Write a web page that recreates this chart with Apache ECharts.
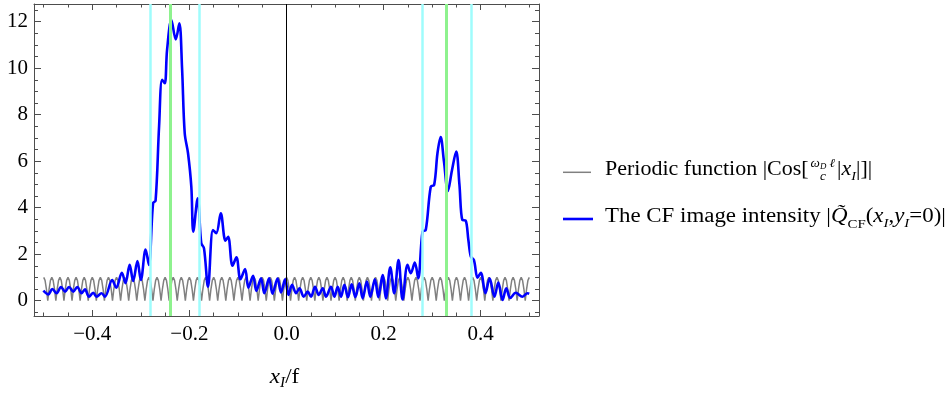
<!DOCTYPE html>
<html>
<head>
<meta charset="utf-8">
<script src="https://cdn.jsdelivr.net/npm/echarts@6/dist/echarts.min.js"></script>
<style>html,body{margin:0;padding:0;background:#fff}#c{width:948px;height:395px}</style>
</head>
<body>
<div id="c"></div>
<script>
// ---------------- data ----------------
const xMin = -0.52, xMax = 0.52, yMin = -0.66, yMax = 12.76;
const xMajor = [-0.4, -0.2, 0, 0.2, 0.4];
const xTickLabels = ['\u22120.4', '\u22120.2', '0.0', '0.2', '0.4'];
const xMinor = [-0.5, -0.45, -0.35, -0.3, -0.25, -0.15, -0.1, -0.05, 0.05, 0.1, 0.15, 0.25, 0.3, 0.35, 0.45, 0.5];
const yMajor = [0, 2, 4, 6, 8, 10, 12];
const yTickLabels = ['0', '2', '4', '6', '8', '10', '12'];
const yMinor = [-0.5, 0.5, 1, 1.5, 2.5, 3, 3.5, 4.5, 5, 5.5, 6.5, 7, 7.5, 8.5, 9, 9.5, 10.5, 11, 11.5, 12.5];

// vertical marker lines
const cyanLines = [-0.2836, -0.1812, 0.2794, 0.3822];
const greenLines = [-0.2357, 0.3308];

// periodic function |Cos[...]|, sampled from x=-0.5 to 0.5 in steps of 1/360
const grayStart = -0.5, grayStep = 1 / 360;
const grayY = [
1,.87,.5,0,.5,.87,1,.87,.5,0,.5,.87,1,.87,.5,0,.5,.87,1,.87,.5,0,.5,.87,1,.87,.5,0,.5,.87,
1,.87,.5,0,.5,.87,1,.87,.5,0,.5,.87,1,.87,.5,0,.5,.87,1,.87,.5,0,.5,.87,1,.87,.5,0,.5,.87,
1,.87,.5,0,.5,.87,1,.87,.5,0,.5,.87,1,.87,.5,0,.5,.87,1,.87,.5,0,.5,.87,1,.87,.5,0,.5,.87,
1,.87,.5,0,.5,.87,1,.87,.5,0,.5,.87,1,.87,.5,0,.5,.87,1,.87,.5,0,.5,.87,1,.87,.5,0,.5,.87,
1,.87,.5,0,.5,.87,1,.87,.5,0,.5,.87,1,.87,.5,0,.5,.87,1,.87,.5,0,.5,.87,1,.87,.5,0,.5,.87,
1,.87,.5,0,.5,.87,1,.87,.5,0,.5,.87,1,.87,.5,0,.5,.87,1,.87,.5,0,.5,.87,1,.87,.5,0,.5,.87,
1,.87,.5,0,.5,.87,1,.87,.5,0,.5,.87,1,.87,.5,0,.5,.87,1,.87,.5,0,.5,.87,1,.87,.5,0,.5,.87,
1,.87,.5,0,.5,.87,1,.87,.5,0,.5,.87,1,.87,.5,0,.5,.87,1,.87,.5,0,.5,.87,1,.87,.5,0,.5,.87,
1,.87,.5,0,.5,.87,1,.87,.5,0,.5,.87,1,.87,.5,0,.5,.87,1,.87,.5,0,.5,.87,1,.87,.5,0,.5,.87,
1,.87,.5,0,.5,.87,1,.87,.5,0,.5,.87,1,.87,.5,0,.5,.87,1,.87,.5,0,.5,.87,1,.87,.5,0,.5,.87,
1,.87,.5,0,.5,.87,1,.87,.5,0,.5,.87,1,.87,.5,0,.5,.87,1,.87,.5,0,.5,.87,1,.87,.5,0,.5,.87,
1,.87,.5,0,.5,.87,1,.87,.5,0,.5,.87,1,.87,.5,0,.5,.87,1,.87,.5,0,.5,.87,1,.87,.5,0,.5,.87,
1];

// CF image intensity (at its turning points)
const blueX = [-0.5007,-0.4905,-0.4822,-0.4734,-0.4644,-0.4561,-0.4479,-0.4391,-0.4309,-0.4220,-0.4150,-0.4068,-0.3980,-0.3912,-0.3809,-0.3739,
-0.3589,-0.3507,-0.3390,-0.3316,-0.3230,-0.3158,-0.3070,-0.3000,-0.2901,-0.2835,
-0.2747,-0.2696,-0.2624,-0.2562,-0.2507,-0.2459,-0.2371,-0.2281,-0.2207,-0.2151,
-0.2096,-0.2028,-0.1960,-0.1919,-0.1829,-0.1755,-0.1699,-0.1617,-0.1514,-0.1446,
-0.1354,-0.1257,-0.1202,-0.1112,-0.1031,-0.0949,-0.0853,-0.0785,-0.0688,-0.0621,
-0.0524,-0.0456,-0.0358,-0.0288,-0.0185,-0.0113,-0.0029,0.0041,0.0115,0.0197,
0.0267,0.0355,0.0438,0.0505,0.0588,0.0664,0.0746,0.0814,0.0916,0.0986,
0.1054,0.1122,0.1192,0.1266,0.1342,0.1418,0.1500,0.1568,0.1656,0.1726,
0.1820,0.1890,0.1979,0.2046,0.2137,0.2219,0.2307,0.2390,0.2492,0.2560,
0.2642,0.2712,0.2801,0.2868,0.2971,0.3041,0.3109,0.3174,0.3242,0.3324,
0.3407,0.3495,0.3561,0.3622,0.3688,0.3746,0.3797,0.3859,0.3935,0.4002,
0.4097,0.4183,0.4282,0.4362,0.4450,0.4526,0.4609,0.4722,0.4859,0.4964,0.4999];
const blueY = [0.43,0.27,0.50,0.32,0.59,0.39,0.59,0.39,0.59,0.32,0.49,0.17,0.34,0.17,0.32,0.17,
0.89,0.56,1.20,0.75,1.54,0.85,1.70,0.89,2.20,1.54,
4.20,4.30,7.50,9.50,9.35,10.80,12.07,11.24,11.93,10.00,
7.20,6.34,4.90,2.97,4.40,2.47,2.25,0.60,3.04,2.90,
3.76,2.58,2.75,1.50,1.87,0.92,1.36,0.56,1.07,0.42,
0.96,0.32,0.96,0.30,0.95,0.35,0.92,0.25,0.68,0.32,
0.53,0.17,0.39,0.17,0.60,0.25,0.53,0.17,0.60,0.17,
0.60,0.17,0.68,0.15,0.70,0.15,0.75,0.10,0.82,0.17,
0.92,0.15,1.10,0.10,1.44,0.32,1.75,0.05,1.54,1.18,
1.64,0.96,2.97,3.04,4.90,4.98,6.34,7.04,6.00,4.72,
5.60,6.41,5.00,3.47,3.45,2.60,1.89,1.75,0.99,1.20,
0.32,0.96,0.17,0.78,0.03,0.53,0.12,0.34,0.17,0.32,0.30];

// ---------------- chart ----------------
const FF = '"Liberation Serif", "Times New Roman", serif';
const frameColor = '#4d4d4d';
const grid = { left: 34, top: 4, width: 505, height: 312 };

const grayData = grayY.map((v, i) => [grayStart + i * grayStep, v]);
const blueData = blueX.map((x, i) => [x, blueY[i]]);

function lbl(vals, labels) {
  return v => { for (let i = 0; i < vals.length; i++) if (Math.abs(v - vals[i]) < 1e-9) return labels[i]; return ''; };
}
function xAx(gi, pos, ticks, len, labels) {
  return {
    type: 'value', gridIndex: gi, position: pos, min: xMin, max: xMax,
    axisLine: { show: gi === 0, onZero: false, lineStyle: { color: frameColor, width: 1 } },
    axisTick: { show: true, inside: true, length: len, customValues: ticks, lineStyle: { color: frameColor, width: 1 } },
    axisLabel: labels ? { show: true, customValues: xMajor, formatter: lbl(xMajor, xTickLabels), fontFamily: FF, fontSize: 21, color: '#000', margin: 8 } : { show: false },
    splitLine: { show: false }
  };
}
function yAx(gi, pos, ticks, len, labels) {
  return {
    type: 'value', gridIndex: gi, position: pos, min: yMin, max: yMax,
    axisLine: { show: gi === 0, onZero: false, lineStyle: { color: frameColor, width: 1 } },
    axisTick: { show: true, inside: true, length: len, customValues: ticks, lineStyle: { color: frameColor, width: 1 } },
    axisLabel: labels ? { show: true, customValues: yMajor, formatter: lbl(yMajor, yTickLabels), fontFamily: FF, fontSize: 21, color: '#000', margin: 6 } : { show: false },
    splitLine: { show: false }
  };
}

function vline(name, vals, color, width, z) {
  return {
    name, type: 'line', xAxisIndex: 0, yAxisIndex: 0, data: [], z, silent: true,
    markLine: {
      silent: true, symbol: ['none', 'none'], animation: false, label: { show: false },
      lineStyle: { color, width, type: 'solid' }, emphasis: { disabled: true },
      data: vals.map(v => ({ xAxis: v }))
    }
  };
}

// ---------- legend / title text built from pieces ----------
const mctx = document.createElement('canvas').getContext('2d');
function fontOf(p) { return (p.it ? 'italic ' : '') + p.s + 'px ' + FF; }
function wid(p) { mctx.font = fontOf(p); return mctx.measureText(p.t).width; }
function textEl(p, x, base, sx) {
  return { type: 'text', x: x, y: base - 0.3 * p.s + (p.dy || 0), scaleX: sx, silent: true,
    style: { text: p.t, font: fontOf(p), fill: '#000', textVerticalAlign: 'middle', verticalAlign: 'middle', textAlign: 'left', align: 'left' } };
}
function runWidth(pieces, sx) { return pieces.reduce((a, p) => a + wid(p) * sx, 0); }
function layout(pieces, x0, base, sx) {
  const els = []; let x = x0;
  for (const p of pieces) {
    if (p.frac) {
      const nw = runWidth(p.num, sx), dw = runWidth(p.den, sx);
      const fw = Math.max(nw, dw) + 4;
      let nx = x + 2 + (fw - 4 - nw) / 2;
      for (const q of p.num) { els.push(textEl(q, nx, base - 8.5, sx)); nx += wid(q) * sx; }
      let dx = x + 2 + (fw - 4 - dw) / 2;
      for (const q of p.den) { els.push(textEl(q, dx, base + 4.5, sx)); dx += wid(q) * sx; }
      x += fw;
    } else {
      els.push(textEl(p, x, base, sx));
      x += wid(p) * sx;
    }
  }
  return els;
}

const legend1 = [
  { t: 'Periodic function |Cos[', s: 20 },
  { frac: true, num: [{ t: '\u03c9', s: 12, it: 1 }, { t: 'D', s: 8, it: 1, dy: 2 }, { t: ' \u2113', s: 12, it: 1 }], den: [{ t: 'c', s: 12, it: 1 }] },
  { t: '|', s: 20 }, { t: 'x', s: 20, it: 1 }, { t: 'I', s: 13, it: 1, dy: 4 }, { t: '|]|', s: 20 }
];
const legend2 = [
  { t: 'The CF image intensity |', s: 20 }, { t: 'Q\u0303', s: 20, it: 1 }, { t: 'CF', s: 13, dy: 5 },
  { t: '(', s: 20 }, { t: 'x', s: 20, it: 1 }, { t: 'I', s: 13, it: 1, dy: 4 }, { t: ',', s: 20 },
  { t: 'y', s: 20, it: 1 }, { t: 'I', s: 13, it: 1, dy: 4 }, { t: '=0)|', s: 20 }
];
const xTitle = [{ t: 'x', s: 21, it: 1 }, { t: 'I', s: 14, it: 1, dy: 4 }, { t: '/f', s: 21 }];

const graphics = [
  { type: 'line', silent: true, shape: { x1: 563, y1: 172.3, x2: 591, y2: 172.3 }, style: { stroke: '#808080', lineWidth: 1.5 } },
  { type: 'line', silent: true, shape: { x1: 563, y1: 219, x2: 593, y2: 219 }, style: { stroke: '#0000ff', lineWidth: 2.6 } }
]
  .concat(layout(legend1, 605, 176, 1.10))
  .concat(layout(legend2, 605, 223, 1.145));
const tW = runWidth(xTitle, 1.1);
graphics.push(...layout(xTitle, 284.5 - tW / 2, 384, 1.1));

const option = {
  animation: false,
  backgroundColor: '#fff',
  grid: [Object.assign({}, grid), Object.assign({}, grid)],
  xAxis: [xAx(0, 'bottom', xMajor, 6, true), xAx(0, 'top', xMajor, 6, false), xAx(1, 'bottom', xMinor, 3.5, false), xAx(1, 'top', xMinor, 3.5, false)],
  yAxis: [yAx(0, 'left', yMajor, 7, true), yAx(0, 'right', yMajor, 7, false), yAx(1, 'left', yMinor, 4, false), yAx(1, 'right', yMinor, 4, false)],
  series: [
    { name: 'Periodic function', type: 'line', xAxisIndex: 0, yAxisIndex: 0, data: grayData, showSymbol: false, smooth: false, z: 2,
      lineStyle: { color: '#808080', width: 1.5 }, silent: true, clip: true },
    vline('cyan', cyanLines, '#9ffcfc', 2.5, 3),
    vline('green', greenLines, '#8ef28e', 3, 3),
    vline('zero', [0], '#000000', 1, 3),
    { name: 'The CF image intensity', type: 'line', xAxisIndex: 0, yAxisIndex: 0, data: blueData, showSymbol: false, smooth: 0.35, z: 4,
      lineStyle: { color: '#0000ff', width: 2.6 }, silent: true, clip: true }
  ],
  graphic: graphics
};

const chart = echarts.init(document.getElementById('c'), null, { renderer: 'canvas' });
chart.setOption(option);
</script>
</body>
</html>
